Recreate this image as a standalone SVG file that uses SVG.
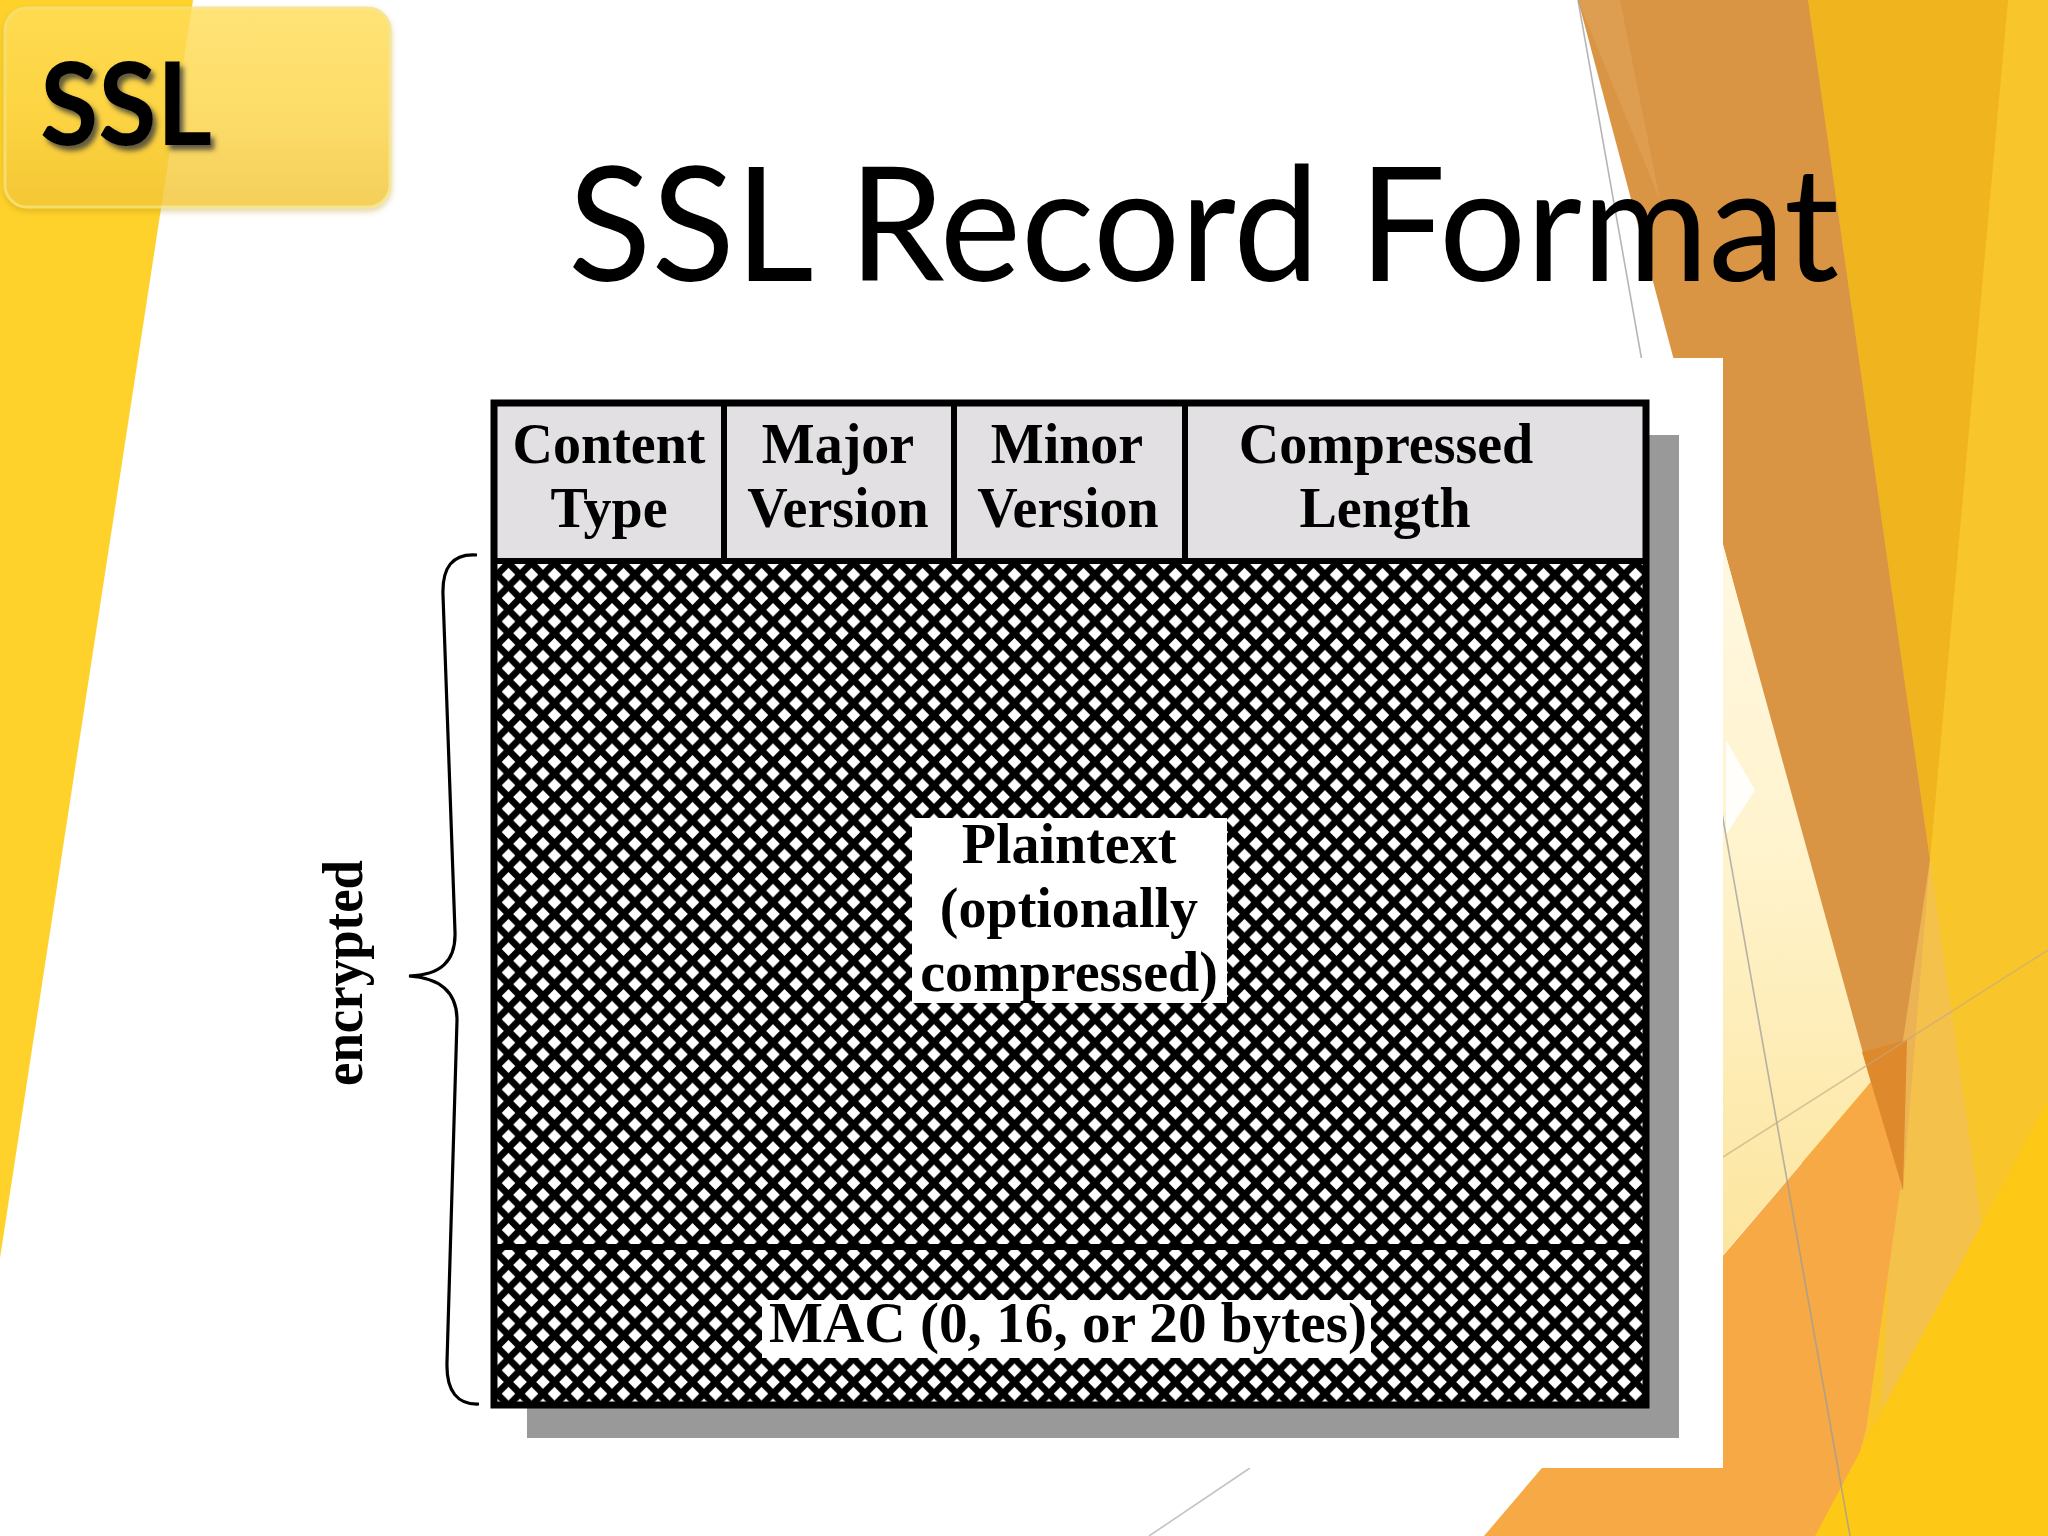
<svg xmlns="http://www.w3.org/2000/svg" width="2048" height="1536" viewBox="0 0 2048 1536">
  <style>
    .hdr { font-family: "Liberation Serif", "Times New Roman", serif; font-weight: bold; font-size: 56px; text-anchor: middle; fill: #000; }
    .bar { stroke: #000; stroke-width: 6; fill: none; }
    .thin { fill: none; stroke-width: 1.6; }
  </style>
  <defs>
    <pattern id="hatch" patternUnits="userSpaceOnUse" x="497" y="563" width="23" height="23.4">
      <rect x="0" y="0" width="23" height="23.4" fill="#000"/>
      <polygon points="11.5,4.8 18.3,11.7 11.5,18.6 4.7,11.7" fill="#fff"/>
      <polygon points="0,-6.9 6.8,0 0,6.9 -6.8,0" fill="#fff"/>
      <polygon points="23,-6.9 29.8,0 23,6.9 16.2,0" fill="#fff"/>
      <polygon points="0,16.5 6.8,23.4 0,30.3 -6.8,23.4" fill="#fff"/>
      <polygon points="23,16.5 29.8,23.4 23,30.3 16.2,23.4" fill="#fff"/>
    </pattern>
    <linearGradient id="boxg" x1="0" y1="0" x2="0" y2="1">
      <stop offset="0" stop-color="#FFDD58"/>
      <stop offset="0.5" stop-color="#FDD64A"/>
      <stop offset="1" stop-color="#F2C536"/>
    </linearGradient>
    <linearGradient id="creamg" x1="0" y1="0" x2="0" y2="1">
      <stop offset="0" stop-color="#FFF8E2"/>
      <stop offset="0.45" stop-color="#FFF3CC"/>
      <stop offset="1" stop-color="#FCE59E"/>
    </linearGradient>
    <filter id="tshadow" x="-20%" y="-20%" width="140%" height="140%">
      <feDropShadow dx="4" dy="5" stdDeviation="2.5" flood-color="#3a3a3a" flood-opacity="0.8"/>
    </filter>
    <filter id="bshadow" x="-10%" y="-10%" width="120%" height="130%">
      <feDropShadow dx="0" dy="3" stdDeviation="3" flood-color="#b08a10" flood-opacity="0.45"/>
    </filter>
  </defs>

  <!-- background -->
  <g id="background">
    <rect x="0" y="0" width="2048" height="1536" fill="#fff"/>
    <polygon points="0,0 193,0 0,1258" fill="#FFD22B"/>
    <polygon points="1808,0 2048,0 2048,1536 1800,1536" fill="#F8C52B"/>
    <polygon points="1808,0 2008,0 1930,860" fill="#F0B41F"/>
    <polygon points="1578,0 1808,0 1930,860 1903,1190 1895,1190" fill="#D99544"/>
    <polygon points="1578,0 1620,0 1660,200" fill="#DEA055" opacity="0.8"/>
    <polygon points="1930,860 1982,1225 1880,1440 1900,1060" fill="#F2C15A" opacity="0.7"/>
    <polygon points="1723,545 1871,1082 1723,1255" fill="url(#creamg)"/>
    <polygon points="1726,740 1755,790 1726,835" fill="#fff" opacity="0.9"/>
    <polygon points="1484,1536 1907,1040 1900,1190 1866,1430 1836,1536" fill="#F6A944"/>
    <polygon points="1862,1052 1907,1040 1903,1190" fill="#DE892B"/>
    <polygon points="1815,1536 2048,1100 2048,1536" fill="#FEC816"/>
    <line x1="1578" y1="0" x2="1850" y2="1536" class="thin" stroke="#9c9c9c" opacity="0.75"/>
    <line x1="1723" y1="1157" x2="2048" y2="950" class="thin" stroke="#c4a684" opacity="0.6"/>
    <line x1="1250" y1="1468" x2="1149" y2="1536" class="thin" stroke="#b4b4b4" opacity="0.8"/>
    <!-- white panel behind figure -->
    <rect x="300" y="358" width="1423" height="1110" fill="#fff"/>
  </g>

  <!-- slide label -->
  <g id="label-ssl">
    <rect x="5" y="8" width="385" height="199" rx="22" ry="22" fill="url(#boxg)" opacity="0.82" stroke="#F6E07A" stroke-width="3" filter="url(#bshadow)"/>
    <text x="40" y="145" font-family="Lato, 'Open Sans', sans-serif" font-weight="bold" font-size="115" textLength="172" lengthAdjust="spacingAndGlyphs" fill="#000" filter="url(#tshadow)">SSL</text>
  </g>

  <!-- title -->
  <g id="title">
    <text x="568" y="281" font-family="Lato, 'Open Sans', sans-serif" font-size="160" textLength="1271" lengthAdjust="spacingAndGlyphs" fill="#000">SSL Record Format</text>
  </g>

  <!-- record figure -->
  <g id="figure">
    <rect id="shadow" x="527" y="435" width="1152" height="1003" fill="#999999"/>
    <rect x="494" y="403" width="1152" height="1002" fill="#fff"/>

    <g id="field-content-type">
      <rect x="497" y="406" width="227" height="155" fill="#E2E0E2"/>
      <text class="hdr" x="609" y="463">Content</text>
      <text class="hdr" x="609" y="527">Type</text>
    </g>
    <g id="field-major-version">
      <rect x="724" y="406" width="230" height="155" fill="#E2E0E2"/>
      <text class="hdr" x="838" y="463">Major</text>
      <text class="hdr" x="838" y="527">Version</text>
    </g>
    <g id="field-minor-version">
      <rect x="954" y="406" width="231" height="155" fill="#E2E0E2"/>
      <text class="hdr" x="1067" y="463">Minor</text>
      <text class="hdr" x="1068" y="527">Version</text>
    </g>
    <g id="field-compressed-length">
      <rect x="1185" y="406" width="458" height="155" fill="#E2E0E2"/>
      <text class="hdr" x="1386" y="463">Compressed</text>
      <text class="hdr" x="1385" y="527">Length</text>
    </g>

    <g id="field-plaintext">
      <rect x="497" y="563" width="1146" height="683" fill="url(#hatch)"/>
      <rect x="912" y="818" width="315" height="185" fill="#fff"/>
      <text class="hdr" x="1069" y="863">Plaintext</text>
      <text class="hdr" x="1069" y="927">(optionally</text>
      <text class="hdr" x="1069" y="991">compressed)</text>
    </g>

    <g id="field-mac">
      <rect x="497" y="1246" width="1146" height="159" fill="url(#hatch)"/>
      <rect x="762" y="1300" width="609" height="58" fill="#fff"/>
      <text class="hdr" x="1068" y="1342" font-size="55" textLength="598" lengthAdjust="spacingAndGlyphs">MAC (0, 16, or 20 bytes)</text>
    </g>

    <g id="frame">
      <rect x="494" y="403" width="1152" height="1002" fill="none" stroke="#000" stroke-width="7"/>
      <line class="bar" x1="494" y1="561" x2="1646" y2="561"/>
      <line class="bar" x1="724" y1="403" x2="724" y2="561"/>
      <line class="bar" x1="954" y1="403" x2="954" y2="561"/>
      <line class="bar" x1="1185" y1="403" x2="1185" y2="561"/>
      <line class="bar" x1="494" y1="1247" x2="1646" y2="1247" stroke-width="5"/>
    </g>
  </g>

  <!-- brace and label -->
  <g id="connectors">
    <path d="M 477,555 C 452,553 442,568 443,595 L 455,932 C 456,962 440,975 409,976 C 440,978 457,992 457,1020 L 447,1362 C 446,1392 458,1405 479,1404" fill="none" stroke="#000" stroke-width="3.2"/>
  </g>
  <g id="label-encrypted">
    <text class="hdr" transform="translate(362,973) rotate(-90)" x="0" y="0" font-size="54" textLength="226" lengthAdjust="spacingAndGlyphs">encrypted</text>
  </g>
</svg>
